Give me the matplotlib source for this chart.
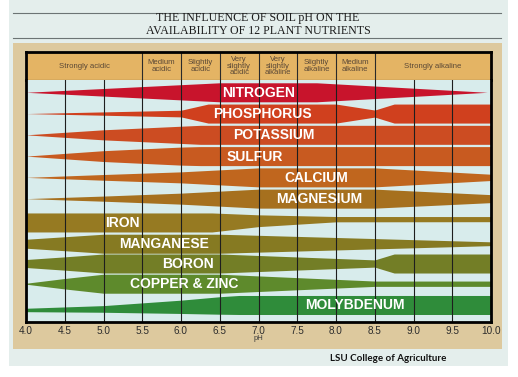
import numpy as np
import matplotlib.pyplot as plt
from matplotlib.patches import Rectangle

W, H_PX = 518, 377

# nutrients, top to bottom
nutrients = ["NITROGEN", "PHOSPHORUS", "POTASSIUM", "SULFUR", "CALCIUM", "MAGNESIUM",
             "IRON", "MANGANESE", "BORON", "COPPER & ZINC", "MOLYBDENUM"]

# relative availability (band half width, 1 = full) read at pH points
nitrogen = [(4.0, 0.0), (6.5, 1.0), (7.75, 1.0), (9.95, 0.0)]
phosphorus = [(4.0, 0.0), (6.0, 0.35), (6.35, 1.0), (8.0, 1.0), (8.5, 0.37), (8.75, 1.0), (10.0, 1.0)]
potassium = [(4.0, 0.0), (5.0, 0.53), (6.25, 1.0), (10.0, 1.0)]
sulfur = [(4.0, 0.0), (5.0, 0.57), (6.0, 0.95), (6.25, 1.0), (10.0, 1.0)]
calcium = [(4.0, 0.0), (5.0, 0.3), (6.0, 0.58), (7.0, 1.0), (8.5, 1.0), (10.0, 0.33)]
magnesium = [(4.0, 0.0), (5.0, 0.27), (6.0, 0.58), (7.0, 1.0), (8.5, 1.0), (10.0, 0.42)]
iron = [(4.0, 1.0), (6.4, 1.0), (7.0, 0.62), (8.0, 0.28), (10.0, 0.27)]
manganese = [(4.0, 0.47), (5.0, 1.0), (6.5, 1.0), (10.0, 0.2)]
boron = [(4.0, 0.42), (4.5, 0.7), (5.0, 1.0), (6.5, 1.0), (8.5, 0.38), (8.75, 1.0), (10.0, 1.0)]
copper_zinc = [(4.0, 0.05), (4.5, 0.55), (5.0, 1.0), (6.5, 1.0), (8.5, 0.28), (10.0, 0.28)]
molybdenum = [(4.0, 0.18), (5.0, 0.35), (6.0, 0.7), (6.5, 0.92), (6.75, 1.0), (10.0, 1.0)]

profiles = [nitrogen, phosphorus, potassium, sulfur, calcium, magnesium,
            iron, manganese, boron, copper_zinc, molybdenum]

zones = ["Strongly acidic", "Medium\nacidic", "Slightly\nacidic", "Very\nslightly\nacidic",
         "Very\nslightly\nalkaline", "Slightly\nalkaline", "Medium\nalkaline", "Strongly alkaline"]
zone_edges = [4.0, 5.5, 6.0, 6.5, 7.0, 7.5, 8.0, 8.5, 10.0]
ph_ticks = [4.0, 4.5, 5.0, 5.5, 6.0, 6.5, 7.0, 7.5, 8.0, 8.5, 9.0, 9.5, 10.0]

# layout / style
colors = ["#c8142c", "#d0401e", "#cc4c22", "#c85a20", "#c0661e", "#a6701e",
          "#967a22", "#867a22", "#737e26", "#5e8a2c", "#2f8c3a"]
label_ph = [7.0, 7.05, 7.2, 6.95, 7.75, 7.78, 5.24, 5.78, 6.09, 6.04, 8.24]
row_shift = [0, 0, 0, 0, 0, 0, 0.12, 0.12, 0.05, 0, 0]
lean = [0, 0, 0, 0, 0, 0, -0.48, 0, 0, 0, 0.64]
HALF = 0.447


def fr(x0, y0, x1, y1):
    # pixel box -> figure fraction rect
    return [x0 / W, 1 - y1 / H_PX, (x1 - x0) / W, (y1 - y0) / H_PX]


fig = plt.figure(figsize=(W / 100, H_PX / 100), dpi=100)
fig.patch.set_facecolor("white")

def box(x0, y0, x1, y1, fc, z=0):
    r = fr(x0, y0, x1, y1)
    fig.add_artist(Rectangle((r[0], r[1]), r[2], r[3], transform=fig.transFigure,
                             facecolor=fc, edgecolor="none", zorder=z))

box(9, 0, 508, 366, "#e4eeec", -3)
box(13, 43, 502, 349, "#ddc99e", -2)
for yy in (12.5, 37.5):
    fig.add_artist(plt.Line2D([13 / W, 501 / W], [1 - yy / H_PX] * 2, transform=fig.transFigure,
                              color="#6c7474", lw=0.8))

fig.text(258 / W, 1 - 18.5 / H_PX, "THE INFLUENCE OF SOIL pH ON THE", ha="center", va="center",
         family="Liberation Serif", fontsize=8.6, color="#1c1c1c")
fig.text(258 / W, 1 - 31 / H_PX, "AVAILABILITY OF 12 PLANT NUTRIENTS", ha="center", va="center",
         family="Liberation Serif", fontsize=8.6, color="#1c1c1c")

# header with pH zones
hax = fig.add_axes(fr(26, 52, 491, 80))
hax.set_facecolor("#e4b464")
hax.set_xlim(4.0, 10.0)
hax.set_ylim(0, 1)
hax.set_xticks([])
hax.set_yticks([])
for s in hax.spines.values():
    s.set_linewidth(2)
hax.spines["bottom"].set_linewidth(0.8)
for e in zone_edges[1:-1]:
    hax.axvline(e, color="#2a2a2a", lw=0.8)
for i, z in enumerate(zones):
    hax.text((zone_edges[i] + zone_edges[i + 1]) / 2, 0.5, z, ha="center", va="center",
             fontsize=5.6, color="#5a4836", family="Liberation Sans", linespacing=0.85)

# main chart
ax = fig.add_axes(fr(26, 80, 491, 322))
ax.set_facecolor("#d8ecec")
ax.set_xlim(4.0, 10.0)
ax.set_ylim(10.8, -0.578)
for i, (name, prof) in enumerate(zip(nutrients, profiles)):
    ph = np.array([p[0] for p in prof])
    w = np.array([p[1] for p in prof])
    c = i + row_shift[i] + lean[i] * (1 - w) * HALF
    ax.fill_between(ph, c - w * HALF, c + w * HALF, color=colors[i], lw=0, zorder=1)
    ax.text(label_ph[i], i + row_shift[i] + 0.02, name, ha="center", va="center", color="white",
            fontsize=10, fontweight="bold", family="Liberation Sans", zorder=4)

ax.set_xticks(ph_ticks)
ax.set_xticklabels([f"{v:.1f}" for v in ph_ticks], fontsize=7.2, color="#2c2c2c",
                   family="Liberation Sans")
ax.tick_params(axis="x", length=0, pad=3)
ax.set_yticks([])
ax.grid(axis="x", color="#1e1e1e", lw=0.8)
ax.set_axisbelow(False)
for s in ax.spines.values():
    s.set_linewidth(2)
    s.set_zorder(5)
ax.spines["top"].set_visible(False)
ax.text(7.0, -0.055, "pH", transform=ax.get_xaxis_transform(), ha="center", va="top",
        fontsize=5.5, color="#3a3a3a", family="Liberation Sans")

fig.text(388 / W, 1 - 358.5 / H_PX, "LSU College of Agriculture", ha="center", va="center",
         family="Lato", fontweight="bold", fontsize=7, color="#111111")

fig.savefig("out.png", dpi=100)
